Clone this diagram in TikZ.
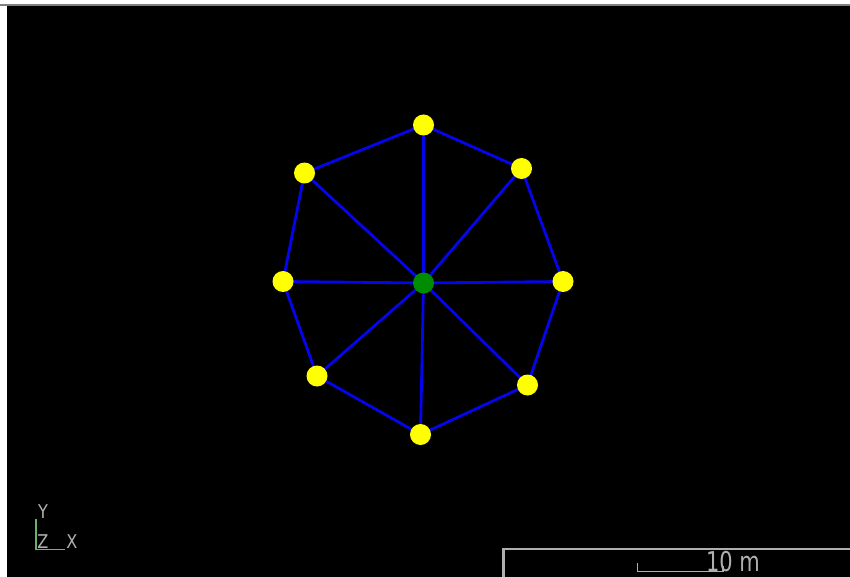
\documentclass[tikz,border=0pt]{standalone}
\usepackage{fontspec}
\setmainfont{DejaVu Sans}
\definecolor{edgeblue}{RGB}{5,5,235}
\definecolor{hubgreen}{RGB}{0,140,0}
\definecolor{nodeyellow}{RGB}{255,255,0}
\definecolor{hudgray}{RGB}{175,175,175}
\definecolor{axisgreen}{RGB}{110,175,110}
\definecolor{axisred}{RGB}{215,130,130}
\tikzset{
  x=1pt,y=-1pt,
  rimnode/.style={circle,fill=nodeyellow,draw=none,minimum size=21pt,inner sep=0pt},
  hubnode/.style={circle,fill=hubgreen,draw=none,minimum size=21pt,inner sep=0pt},
  edgeline/.style={draw=edgeblue,line width=2.8pt},
  hudline/.style={draw=hudgray,line width=2.4pt},
  scaleline/.style={draw=hudgray,line width=1.3pt},
  axislabel/.style={text=hudgray,font=\fontsize{19}{19}\selectfont,inner sep=0pt,xscale=.85},
  scalelabel/.style={text=hudgray,font=\fontsize{21}{21}\selectfont,inner sep=0pt,yscale=1.3}
}
\begin{document}
\begin{tikzpicture}
\useasboundingbox (0,0) rectangle (850,577);
\fill[white] (0,0) rectangle (850,577);
\fill[black] (7,6) rectangle (850,577);
\draw[draw=gray,line width=1.5pt] (0,5.2) -- (850,5.2);
% nodes
\coordinate (n1) at (423.5,125);
\coordinate (n2) at (521.5,168.5);
\coordinate (n3) at (563,281.5);
\coordinate (n4) at (527.5,385);
\coordinate (n5) at (420.5,434.5);
\coordinate (n6) at (317,376);
\coordinate (n7) at (283,281.5);
\coordinate (n8) at (304.5,173);
\coordinate (c) at (423.5,283);
\foreach \i/\j in {1/2,2/3,3/4,4/5,5/6,6/7,7/8,8/1} \draw[edgeline] (n\i) -- (n\j);
\foreach \i in {1,...,8} \draw[edgeline] (c) -- (n\i);
\foreach \i in {1,...,8} \node[rimnode] (r\i) at (n\i) {};
\node[hubnode] (hub) at (c) {};
% axes
\coordinate (o) at (36,549.5);
\coordinate (ay) at (36,519);
\coordinate (ax) at (65,549.5);
\draw[draw=axisgreen,line width=1.6pt] (o) -- (ay);
\draw[draw=axisred,line width=1.6pt] (o) -- (ax);
\node[axislabel] (ly) at (43,512) {Y};
\node[axislabel] (lz) at (43,542) {Z};
\node[axislabel] (lx) at (72,542) {X};
% scale box
\coordinate (b1) at (503.5,577);
\coordinate (b2) at (503.5,549);
\coordinate (b3) at (850,549);
\draw[hudline] (b1) -- (b2) -- (b3);
\coordinate (s1) at (637.5,563);
\coordinate (s2) at (637.5,571.5);
\coordinate (s3) at (723,571.5);
\coordinate (s4) at (723,566);
\draw[scaleline] (s1) -- (s2) -- (s3) -- (s4);
\node[scalelabel] (sl) at (733,562) {10 m};
\end{tikzpicture}
\end{document}
